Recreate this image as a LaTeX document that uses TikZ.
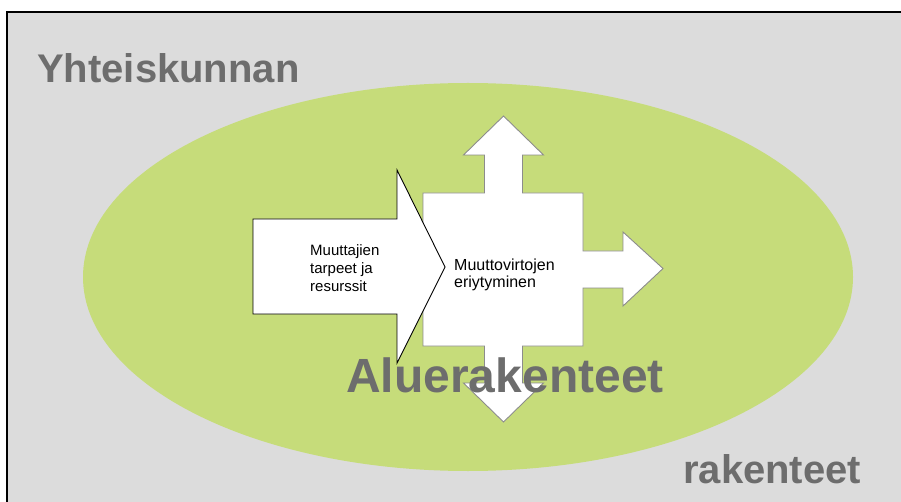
\documentclass[tikz,border=0pt]{standalone}
\usepackage{fontspec}
\setmainfont{Liberation Sans}
\definecolor{pagegray}{RGB}{220,220,220}
\definecolor{leafgreen}{RGB}{198,220,122}
\definecolor{titlegray}{RGB}{109,109,109}
\definecolor{edgegray}{RGB}{140,140,140}
\tikzset{
  bigtitle/.style={font=\fontsize{40}{48}\selectfont\bfseries,text=titlegray,inner sep=0pt},
  boxtext/.style={font=\fontsize{15}{18}\selectfont,align=left,inner sep=0pt}
}
\begin{document}
\begin{tikzpicture}[x=1pt,y=-1pt]
 \useasboundingbox (0,0) rectangle (901,502);
 \fill[pagegray](7,12) rectangle (901,502);
 \draw[black,line width=1.4pt](7,502)--(7,12)--(901,12);
 \fill[leafgreen](468,277) ellipse [x radius=385,y radius=194];
 \draw[edgegray,fill=white,line width=0.9pt](423,193)--(484.5,193)--(484.5,155)--(463.5,155)--(503.5,116)--(543.5,155)--(522.5,155)--(522.5,193)--(583,193)--(583,251)--(623,251)--(623,232)--(663,268.5)--(623,306)--(623,288)--(583,288)--(583,346)--(522.5,346)--(522.5,383)--(543.5,383)--(503.5,422)--(463.5,383)--(484.5,383)--(484.5,346)--(423,346)--cycle;
 \draw[black,fill=white,line width=0.9pt](253,219)--(397,219)--(397,170)--(445,267)--(397,363)--(397,314)--(253,314)--cycle;
 \node[boxtext,anchor=north west] (needs) at (310,244) {Muuttajien\\tarpeet ja\\resurssit};
 \node[boxtext,anchor=north west,font=\fontsize{16}{17}\selectfont] (flows) at (454,258.5) {Muuttovirtojen\\eriytyminen};
 \node[bigtitle,anchor=base west] (society) at (37,83) {Yhteiskunnan};
 \node[bigtitle,anchor=base west] (structures) at (683,483) {rakenteet};
 \node[bigtitle,anchor=base,font=\fontsize{48}{56}\selectfont\bfseries] (regional) at (505,392) {Aluerakenteet};
\end{tikzpicture}
\end{document}
